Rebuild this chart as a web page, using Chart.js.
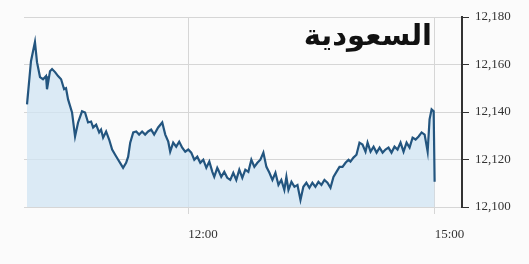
<!DOCTYPE html>
<html>
<head>
<meta charset="utf-8">
<script src="https://cdn.jsdelivr.net/npm/chart.js@4/dist/chart.umd.min.js"></script>
<style>
  html, body { margin: 0; padding: 0; background: #fbfbfb; }
  #wrap { position: relative; width: 529px; height: 264px; }
  #title {
    position: absolute; right: 97px; top: 17px;
    font-family: "DejaVu Sans", sans-serif; font-weight: bold; font-size: 29px;
    color: #111; direction: rtl; line-height: 36px;
  }
</style>
</head>
<body>
<div id="wrap">
  <canvas id="chart" width="529" height="264"></canvas>
  <div id="title">السعودية</div>
</div>
<script>
// minutes since 10:00
const minutes = [
  2.2, 5.1, 8.0, 9.5, 11.7, 13.9, 16.1, 16.8, 19.0, 20.5, 22.7, 24.9, 27.1, 29.3, 30.7, 32.2,
  35.1, 37.3, 39.5, 42.4, 44.6, 46.8, 49.0, 50.5, 52.7, 54.9, 56.3, 57.8, 60.0, 62.2, 64.4,
  66.6, 68.8, 70.2, 72.4, 74.6, 76.1, 77.6, 79.8, 82.0, 84.1, 86.3, 88.5, 90.7, 92.9, 95.1,
  98.0, 101.0, 103.2, 105.4, 106.8, 109.0, 111.2, 113.4, 115.6, 117.8, 120.0, 122.2, 124.4,
  126.6, 128.8, 131.0, 133.2, 135.4, 137.6, 139.0, 141.2, 141.9, 144.1, 146.3, 148.5, 150.7,
  152.9, 155.1, 157.3, 159.5, 161.7, 163.9, 166.1, 168.3, 170.5, 172.7, 174.9, 177.1, 179.3,
  181.5, 183.7, 185.9, 188.0, 190.2, 191.7, 193.2, 195.4, 197.6, 199.8, 202.0, 204.1, 206.3,
  208.5, 210.7, 212.9, 215.1, 217.3, 219.5, 221.7, 223.9, 226.1, 228.3, 230.5, 232.7, 234.9,
  237.1, 238.5, 240.7, 242.9, 245.1, 247.3, 249.5, 251.0, 253.2, 255.4, 257.6, 259.8, 262.0,
  264.1, 266.3, 268.5, 270.7, 272.9, 275.1, 277.3, 279.5, 281.7, 283.9, 286.1, 288.3, 290.5,
  292.7, 294.9, 296.3, 297.8, 299.3, 300.0
];

const index = [
  12143.2, 12161.4, 12169.5, 12161.0, 12154.7, 12153.8, 12155.1, 12149.6, 12157.2, 12158.1,
  12156.8, 12155.1, 12153.8, 12149.6, 12150.0, 12145.3, 12139.8, 12129.7, 12135.6, 12140.3,
  12139.8, 12135.6, 12136.0, 12133.5, 12134.7, 12131.4, 12132.6, 12129.2, 12131.8, 12128.4,
  12124.2, 12122.0, 12119.9, 12118.6, 12116.5, 12118.6, 12121.2, 12127.1, 12131.4, 12131.8,
  12130.5, 12131.8, 12130.5, 12131.8, 12132.6, 12130.5, 12133.5, 12135.6, 12130.5, 12127.5,
  12123.3, 12127.1, 12125.4, 12127.5, 12125.0, 12123.3, 12124.2, 12122.9, 12119.9, 12121.2,
  12118.6, 12119.9, 12116.5, 12119.1, 12114.8, 12112.7, 12116.5, 12115.7, 12112.7, 12114.8,
  12112.3, 12111.4, 12114.4, 12111.4, 12115.7, 12112.3, 12115.7, 12114.8, 12119.9, 12116.9,
  12118.6, 12119.9, 12122.9, 12116.9, 12114.4, 12111.4, 12114.4, 12109.3, 12111.4, 12107.2,
  12112.7, 12107.2, 12110.6, 12108.5, 12109.3, 12103.0, 12108.5, 12110.2, 12108.1, 12110.2,
  12108.5, 12110.6, 12109.3, 12111.4, 12110.2, 12108.1, 12112.7, 12114.8, 12116.9, 12116.9,
  12118.6, 12119.9, 12119.1, 12120.8, 12122.0, 12127.1, 12126.3, 12123.3, 12127.1, 12123.3,
  12125.4, 12122.9, 12125.0, 12122.9, 12124.2, 12125.0, 12122.9, 12125.4, 12124.2, 12127.1,
  12123.3, 12127.1, 12125.0, 12129.2, 12128.4, 12129.7, 12131.4, 12130.5, 12123.3, 12136.9,
  12141.1, 12140.3, 12110.6
];

const xTicks = [120, 300];
const xTickLabels = ['12:00', '15:00'];
const yTicks = [12100, 12120, 12140, 12160, 12180];

const points = minutes.map((m, i) => ({ x: m, y: index[i] }));

new Chart(document.getElementById('chart'), {
  type: 'line',
  data: {
    datasets: [{
      data: points,
      borderColor: '#23557f',
      borderWidth: 2.2,
      backgroundColor: 'rgba(208, 228, 243, 0.75)',
      fill: 'start',
      pointRadius: 0,
      tension: 0
    }]
  },
  options: {
    responsive: false,
    animation: false,
    layout: { padding: { left: 24, top: 17, right: 0, bottom: 0 } },
    plugins: { legend: { display: false }, tooltip: { enabled: false } },
    scales: {
      x: {
        type: 'linear',
        min: 0,
        max: 320,
        afterBuildTicks: (axis) => { axis.ticks = xTicks.map(v => ({ value: v })); },
        afterFit: (axis) => { axis.height = 57; },
        border: { display: false },
        grid: { color: '#d6d6d6', tickColor: '#d6d6d6', tickLength: 7, lineWidth: 1 },
        ticks: {
          align: 'start',
          padding: 13,
          color: '#333',
          font: { family: 'Liberation Serif', size: 13 },
          maxRotation: 0,
          callback: (v) => xTickLabels[xTicks.indexOf(v)]
        }
      },
      y: {
        position: 'right',
        min: 12100,
        max: 12180,
        afterBuildTicks: (axis) => { axis.ticks = yTicks.map(v => ({ value: v })); },
        afterFit: (axis) => { axis.width = 67; },
        border: { display: true, color: '#333', width: 2 },
        grid: { color: '#d6d6d6', tickColor: '#333', tickLength: 7, lineWidth: 1 },
        ticks: {
          padding: 6,
          color: '#333',
          font: { family: 'Liberation Serif', size: 13 },
          callback: (v) => v.toLocaleString('en-US')
        }
      }
    }
  }
});
</script>
</body>
</html>
